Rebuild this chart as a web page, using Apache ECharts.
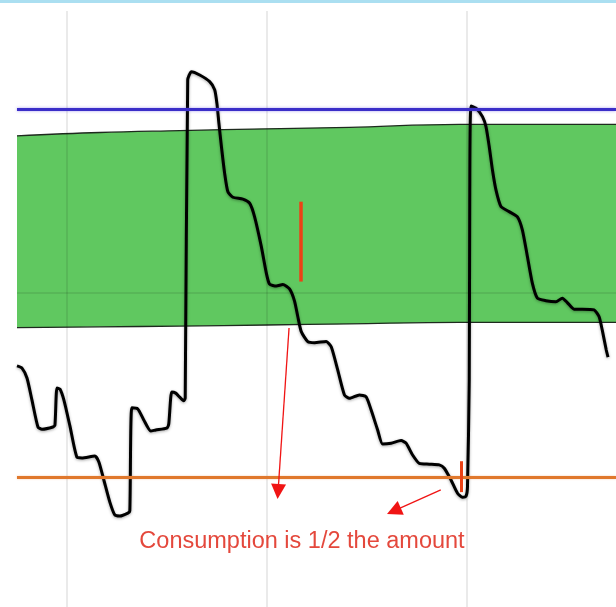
<!DOCTYPE html>
<html>
<head>
<meta charset="utf-8">
<style>
  html, body { margin: 0; padding: 0; background: #fff; }
  #chart { width: 616px; height: 607px; }
</style>
<script src="https://cdn.jsdelivr.net/npm/echarts@6/dist/echarts.min.js"></script>
</head>
<body>
<div id="chart"></div>
<script>
// time in hours (x), level where orange = 0 and blue = 100 (y)
var levelT = [0, 0.2, 0.4, 0.6, 0.84, 1.0, 1.44, 1.52, 1.6, 1.72, 1.88, 2.12, 2.4, 2.6, 3.12, 3.28, 3.48, 3.72, 3.92, 4.12,
  4.44, 4.52, 4.6, 4.84, 5.08, 5.36, 5.56, 6.0, 6.08, 6.2, 6.36, 6.52, 6.68, 6.74, 6.84, 6.99, 7.32, 7.72, 7.92, 8.01,
  8.09, 8.19, 8.32, 8.45, 8.65, 9.05, 9.32, 9.52, 9.79, 9.99, 10.12, 10.39, 10.65, 10.92, 11.12, 11.25, 11.39, 11.65, 11.92, 12.39,
  12.59, 12.85, 13.12, 13.32, 13.72, 13.99, 14.19, 14.45, 14.65, 14.99, 15.39, 15.59, 15.85, 16.12, 16.52, 16.92, 17.12, 17.39, 17.65, 17.85,
  17.99, 18.05, 18.12, 18.14, 18.19, 18.39, 18.65, 18.79, 18.92, 19.05, 19.19, 19.39, 19.72, 20.05, 20.25, 20.45, 20.65, 20.85, 21.19, 21.59,
  21.85, 22.05, 22.32, 22.65, 23.12, 23.32, 23.45, 23.61, 23.68];
var levelV = [30.2, 29.6, 26.9, 20.9, 13.6, 13.0, 13.6, 14.1, 24.2, 23.9, 20.9, 13.9, 5.4, 5.2, 5.7, 4.1, -0.8, -6.8, -10.3, -10.6,
  -9.8, -9.2, 18.8, 18.5, 15.5, 12.5, 12.8, 13.3, 14.4, 23.1, 22.8, 21.7, 20.7, 21.5, 107.9, 110.1, 109.2, 107.4, 105.2, 101.5,
  96.1, 89.8, 82.5, 77.5, 76.0, 75.5, 74.4, 70.7, 62.6, 55.4, 52.4, 51.9, 52.3, 51.1, 47.8, 43.6, 39.5, 36.8, 36.5, 36.8,
  35.4, 29.1, 22.3, 21.4, 22.3, 21.8, 18.2, 12.8, 9.0, 9.2, 9.9, 9.2, 6.0, 3.7, 3.5, 3.3, 2.4, -0.8, -4.4, -5.5,
  -5.2, -2.6, 26.4, 75.3, 100.8, 100.2, 97.9, 95.2, 89.8, 83.4, 78.0, 73.5, 72.1, 70.7, 67.1, 59.9, 52.6, 48.6, 47.9, 47.6,
  48.6, 47.4, 45.6, 45.6, 45.4, 43.6, 39.9, 34.5, 32.6];

// green target band
var bandT = [0, 3.32, 6.52, 10, 13.32, 17.72, 24];
var bandLow = [40.6, 40.8, 41.0, 41.3, 41.6, 42.0, 42.0];
var bandHigh = [92.7, 93.6, 94.1, 94.6, 95.0, 95.8, 95.8];

// reference lines
var upperLimit = 100;
var lowerLimit = 0;
var midLine = 50;
var gridHours = [2, 10, 18];

// red annotations [t, v]
var bigMark = [[11.38, 74.8], [11.38, 53.1]];
var smallMark = [[17.79, 4.3], [17.79, -4.1]];
var arrowOne = [[10.9, 40.5], [10.46, -3.9]];
var arrowTwo = [[16.98, -3.5], [15.10, -9.2]];
var noteText = 'Consumption is 1/2 the amount';

function zip(a, b) {
  var out = [];
  for (var i = 0; i < a.length; i++) {
    out.push([a[i], b[i]]);
  }
  return out;
}

var Chart = echarts.init(document.getElementById('chart'), null, { renderer: 'canvas' });

var option = {
  animation: false,
  backgroundColor: '#fff',
  grid: { left: 17, top: 11, width: 600, height: 596 },
  xAxis: {
    type: 'value', min: 0, max: 24,
    axisLine: { show: false }, axisTick: { show: false }, axisLabel: { show: false }, splitLine: { show: false }
  },
  yAxis: {
    type: 'value', min: -35.3, max: 126.6,
    axisLine: { show: false }, axisTick: { show: false }, axisLabel: { show: false }, splitLine: { show: false }
  },
  graphic: [
    {
      type: 'rect', left: 0, top: 0, z: 100,
      shape: { width: 616, height: 3 },
      style: { fill: '#abdff1' }
    },
    {
      type: 'text', x: 302, y: 542, z: 100,
      style: {
        text: noteText, fill: '#e4483c', fontSize: 23.5,
        fontFamily: 'Liberation Sans, Arial, sans-serif',
        align: 'center', verticalAlign: 'middle'
      }
    }
  ],
  series: [
    // band upper edge, green filled down to the bottom
    {
      type: 'line', z: 1, symbol: 'none', silent: true, smooth: 0.4,
      data: zip(bandT, bandHigh),
      lineStyle: { color: '#1e2a1e', width: 1.3 },
      areaStyle: { color: '#60c860', opacity: 1, origin: 'start' }
    },
    // band lower edge, white below it
    {
      type: 'line', z: 1, symbol: 'none', silent: true, smooth: 0.4,
      data: zip(bandT, bandLow),
      lineStyle: { color: '#1e2a1e', width: 1.3 },
      areaStyle: { color: '#fff', opacity: 1, origin: 'start' }
    },
    // light grid lines
    {
      type: 'line', z: 2, data: [], silent: true,
      markLine: {
        silent: true, symbol: 'none', label: { show: false },
        lineStyle: { color: 'rgba(0,0,0,0.11)', width: 1.5, type: 'solid' },
        data: gridHours.map(function (h) { return { xAxis: h }; }).concat([{ yAxis: midLine }])
      }
    },
    // limits
    {
      type: 'line', z: 3, data: [], silent: true,
      markLine: {
        silent: true, symbol: 'none', label: { show: false },
        data: [
          { yAxis: upperLimit, lineStyle: { color: '#3b2ec8', width: 3, type: 'solid', shadowBlur: 3, shadowColor: 'rgba(90,70,230,0.5)' } },
          { yAxis: lowerLimit, lineStyle: { color: '#e0782c', width: 3, type: 'solid', shadowBlur: 2, shadowColor: 'rgba(230,120,40,0.4)' } }
        ]
      }
    },
    // level curve
    {
      type: 'line', z: 4, symbol: 'none', smooth: 0.2, silent: true,
      data: zip(levelT, levelV),
      lineStyle: { color: '#000', width: 3, shadowBlur: 3, shadowColor: 'rgba(0,0,0,0.35)', shadowOffsetY: 1 }
    },
    // red annotations
    {
      type: 'line', z: 5, data: [], silent: true,
      markLine: {
        silent: true, label: { show: false },
        data: [
          [{ coord: bigMark[0], symbol: 'none' }, { coord: bigMark[1], symbol: 'none', lineStyle: { color: '#ec4216', width: 3.5, type: 'solid' } }],
          [{ coord: smallMark[0], symbol: 'none' }, { coord: smallMark[1], symbol: 'none', lineStyle: { color: '#ec4216', width: 3, type: 'solid' } }],
          [{ coord: arrowOne[0], symbol: 'none' }, { coord: arrowOne[1], symbol: 'triangle', symbolSize: 15, lineStyle: { color: '#f01414', width: 1.3, type: 'solid' }, itemStyle: { color: '#f01414' } }],
          [{ coord: arrowTwo[0], symbol: 'none' }, { coord: arrowTwo[1], symbol: 'triangle', symbolSize: 15, lineStyle: { color: '#f01414', width: 1.3, type: 'solid' }, itemStyle: { color: '#f01414' } }]
        ]
      }
    }
  ]
};

Chart.setOption(option);
</script>
</body>
</html>
